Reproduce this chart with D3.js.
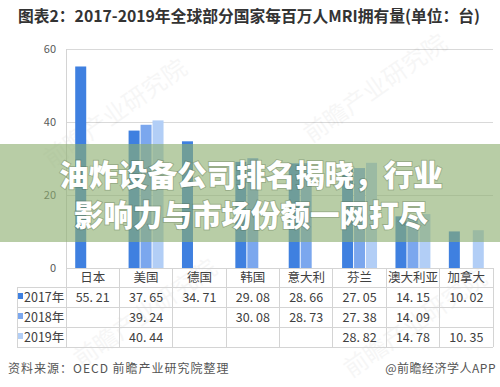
<!DOCTYPE html>
<html>
<head>
  <meta charset="utf-8">
  <style>
    body { margin: 0; background: #fff; }
    text { font-family: "Noto Sans CJK SC", "Noto Sans", sans-serif; }
  </style>
</head>
<body>
  <div class="chart"></div>
  <script src="https://cdn.jsdelivr.net/npm/d3@7/dist/d3.min.js"></script>
  <script>
    var countries = ["日本", "美国", "德国", "韩国", "意大利", "芬兰", "澳大利亚", "加拿大"];
    var years = ["2017年", "2018年", "2019年"];
    var v2017 = [55.21, 37.65, 34.71, 29.08, 28.66, 27.05, 14.15, 10.02];
    var v2018 = [null, 39.24, null, 30.08, 28.73, 27.38, 14.09, null];
    var v2019 = [null, 40.44, null, null, null, 28.82, 14.78, 10.35];
    var yTicks = [0, 20, 40, 60];
    var colors = ["#3f80e0", "#7ba7ee", "#b2cef6"];

    var series = [v2017, v2018, v2019];
    var width = 500, height = 387;
    var plotL = 66, plotR = 493, plotT = 49, plotB = 268;
    var rowH = 20;

    var svg = d3.select(".chart").append("svg")
      .attr("width", width)
      .attr("height", height);

    // title
    svg.append("text")
      .attr("x", 18).attr("y", 22)
      .attr("textLength", 462).attr("lengthAdjust", "spacingAndGlyphs")
      .style("font-size", "16px").style("font-weight", "bold").style("fill", "#333")
      .text("图表2：2017-2019年全球部分国家每百万人MRI拥有量(单位：台)");

    var x = d3.scaleBand().domain(countries).range([plotL, plotR]).paddingInner(0).paddingOuter(0);
    var x1 = d3.scaleBand().domain(years).range([0, x.bandwidth()]).paddingOuter(0.77).paddingInner(0.08);
    var y = d3.scaleLinear().domain([0, 60]).range([plotB, plotT]);

    // grid
    svg.append("g").selectAll("line").data(yTicks.filter(function (d) { return d > 0; }))
      .enter().append("line")
      .attr("x1", plotL).attr("x2", plotR)
      .attr("y1", function (d) { return Math.round(y(d)) + 0.5; })
      .attr("y2", function (d) { return Math.round(y(d)) + 0.5; })
      .style("stroke", "#d9d9d9");

    svg.append("g").selectAll("text").data(yTicks)
      .enter().append("text")
      .attr("x", 56).attr("y", function (d) { return y(d) + 4; })
      .attr("text-anchor", "end")
      .style("font-size", "11px").style("fill", "#595959")
      .text(function (d) { return d; });

    // watermarks
    [[120, 120], [380, 95], [150, 320], [420, 330]].forEach(function (p) {
      svg.append("text")
        .attr("transform", "translate(" + p[0] + "," + p[1] + ") rotate(-35)")
        .attr("text-anchor", "middle")
        .style("font-size", "24px").style("fill", "#000").style("opacity", 0.03)
        .text("前瞻产业研究院");
    });

    // bars
    series.forEach(function (vals, si) {
      svg.append("g").selectAll("rect")
        .data(countries.map(function (c, i) { return { c: c, v: vals[i] }; }).filter(function (d) { return d.v != null; }))
        .enter().append("rect")
        .attr("x", function (d) { return x(d.c) + x1(years[si]); })
        .attr("width", x1.bandwidth())
        .attr("y", function (d) { return y(d.v); })
        .attr("height", function (d) { return plotB - y(d.v); })
        .style("fill", colors[si]);
    });

    // table
    var tb = svg.append("g").style("stroke", "#d4d4d4").style("shape-rendering", "crispEdges");
    tb.append("line").attr("x1", plotL).attr("x2", plotR).attr("y1", plotB).attr("y2", plotB);
    for (var r = 1; r <= 4; r++) {
      tb.append("line").attr("x1", 17).attr("x2", plotR)
        .attr("y1", plotB + r * rowH - 1).attr("y2", plotB + r * rowH - 1);
    }
    tb.append("line").attr("x1", plotL).attr("x2", plotL).attr("y1", plotT).attr("y2", plotB + 4 * rowH - 1);
    countries.forEach(function (c) {
      tb.append("line").attr("x1", x(c) + x.bandwidth()).attr("x2", x(c) + x.bandwidth())
        .attr("y1", plotB).attr("y2", plotB + 4 * rowH - 1);
    });
    tb.append("line").attr("x1", 17).attr("x2", 17).attr("y1", plotB + rowH - 1).attr("y2", plotB + 4 * rowH - 1);

    svg.append("g").selectAll("text").data(countries)
      .enter().append("text")
      .attr("x", function (d) { return x(d) + x.bandwidth() / 2; })
      .attr("y", plotB + 14)
      .attr("text-anchor", "middle")
      .style("font-size", "12.5px").style("fill", "#404040")
      .text(function (d) { return d; });

    var fmt = function (v) { return v.toFixed(2).replace(".", ". "); };
    series.forEach(function (vals, si) {
      var ry = plotB + (si + 1) * rowH + 14;
      svg.append("rect").attr("x", 18).attr("y", ry - 9).attr("width", 5).attr("height", 6).style("fill", colors[si]);
      svg.append("text").attr("x", 24).attr("y", ry)
        .style("font-size", "12.5px").style("fill", "#404040").text(years[si]);
      svg.append("g").selectAll("text")
        .data(countries.map(function (c, i) { return { c: c, v: vals[i] }; }).filter(function (d) { return d.v != null; }))
        .enter().append("text")
        .attr("x", function (d) { return x(d.c) + x.bandwidth() / 2; })
        .attr("y", ry)
        .attr("text-anchor", "middle")
        .style("font-size", "12.5px").style("fill", "#404040")
        .text(function (d) { return fmt(d.v); });
    });

    // footer
    svg.append("text").attr("x", 8).attr("y", 373)
      .style("font-size", "12px").style("fill", "#555").style("letter-spacing", "1px")
      .text("资料来源：OECD 前瞻产业研究院整理");
    svg.append("text").attr("x", 496).attr("y", 373).attr("text-anchor", "end")
      .style("font-size", "12px").style("fill", "#555").style("letter-spacing", "0.5px")
      .text("@前瞻经济学人APP");

    // green overlay banner
    svg.append("rect").attr("x", 0).attr("y", 144).attr("width", width).attr("height", 98)
      .style("fill", "rgb(141,175,112)").style("opacity", 0.62);

    var lines = ["油炸设备公司排名揭晓，行业", "影响力与市场份额一网打尽"];
    svg.append("g").selectAll("text").data(lines)
      .enter().append("text")
      .attr("x", 251)
      .attr("y", function (d, i) { return 186 + i * 40; })
      .attr("text-anchor", "middle")
      .style("font-size", "29.5px").style("font-weight", "900").style("fill", "#fff")
      .style("paint-order", "stroke").style("stroke", "rgba(60,80,50,0.25)").style("stroke-width", "2px")
      .text(function (d) { return d; });
  </script>
</body>
</html>
